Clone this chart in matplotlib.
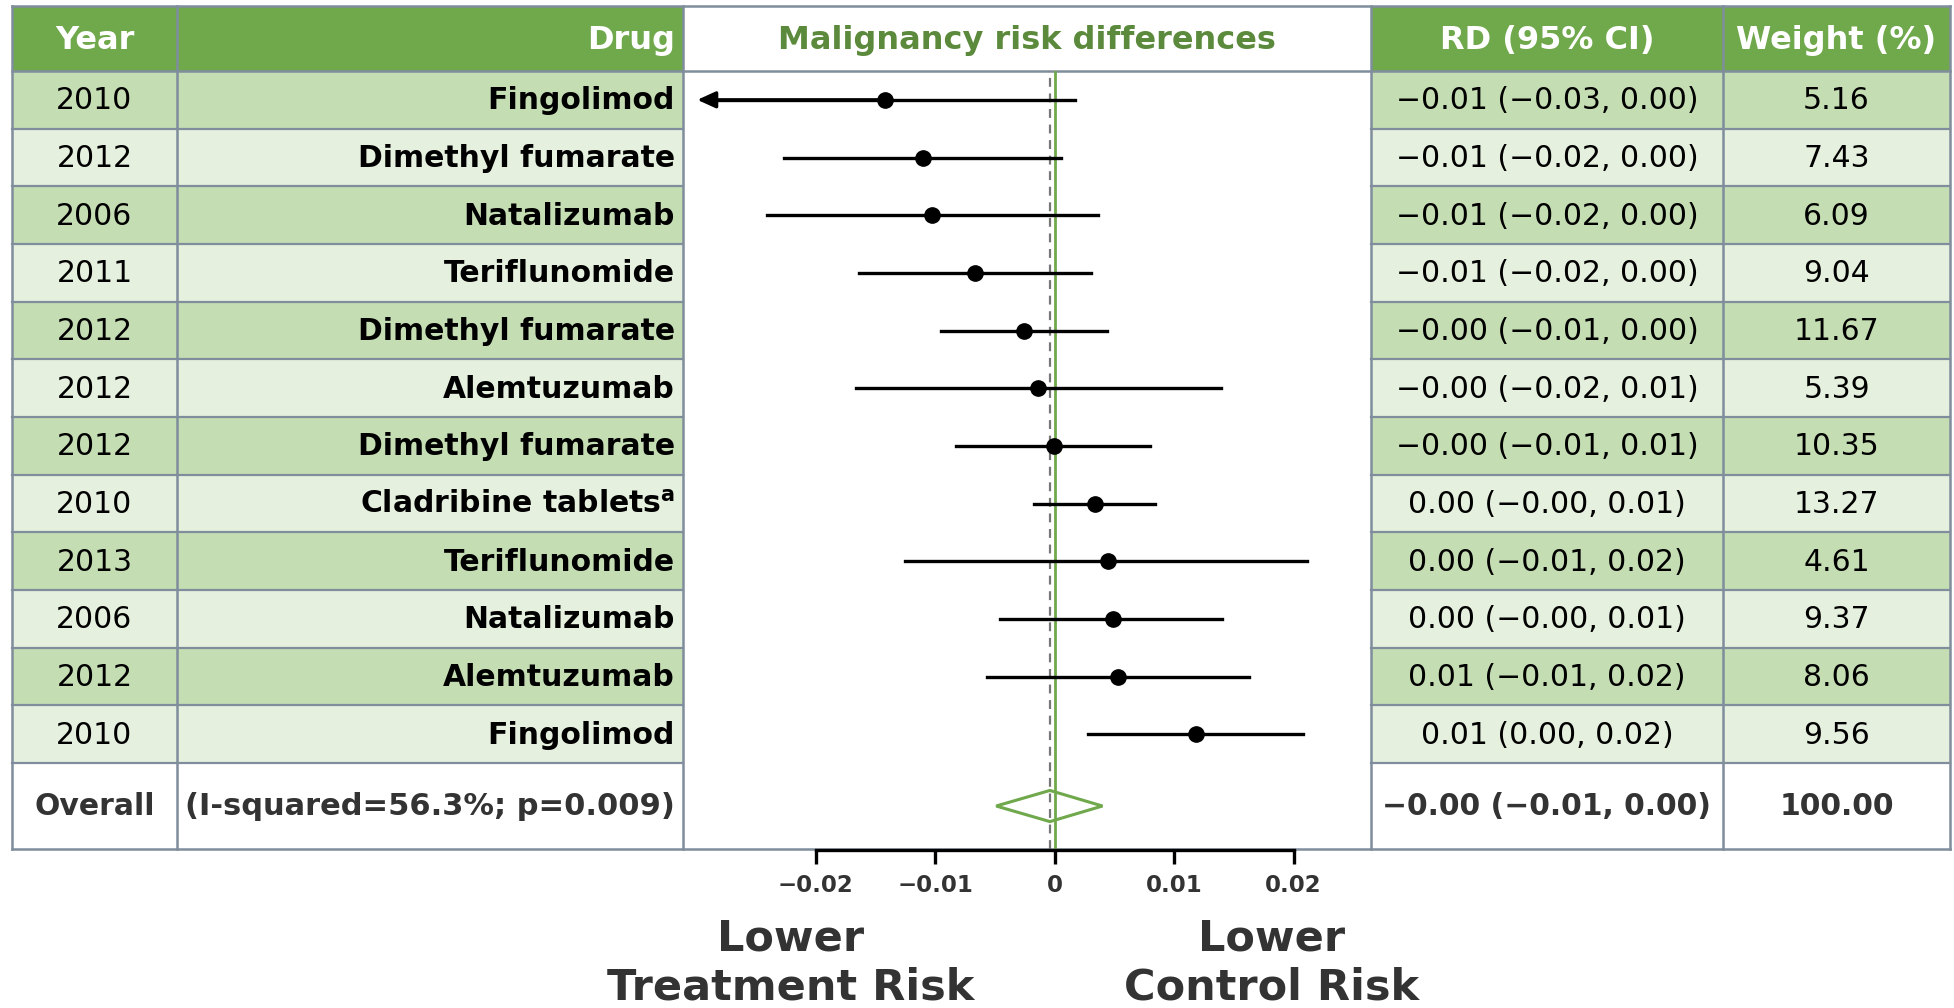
import matplotlib
matplotlib.use("Agg")
import matplotlib.pyplot as plt
import matplotlib.patches as mpatches

# ---- data ----
years = ["2010", "2012", "2006", "2011", "2012", "2012", "2012", "2010", "2013", "2006", "2012", "2010"]
drugs = ["Fingolimod", "Dimethyl fumarate", "Natalizumab", "Teriflunomide", "Dimethyl fumarate",
         "Alemtuzumab", "Dimethyl fumarate", r"Cladribine tablets$^\mathbf{a}$", "Teriflunomide",
         "Natalizumab", "Alemtuzumab", "Fingolimod"]
rd = [-0.0142, -0.0110, -0.0103, -0.0067, -0.0026, -0.0014, -0.0001, 0.0034, 0.0045, 0.0049, 0.0053, 0.0118]
ci_low = [-0.0330, -0.0227, -0.0241, -0.0164, -0.0095, -0.0166, -0.0083, -0.0017, -0.0125, -0.0046, -0.0057, 0.0028]
ci_high = [0.0017, 0.0005, 0.0036, 0.0030, 0.0044, 0.0139, 0.0080, 0.0084, 0.0211, 0.0140, 0.0163, 0.0208]
rd_text = ["−0.01 (−0.03, 0.00)", "−0.01 (−0.02, 0.00)", "−0.01 (−0.02, 0.00)", "−0.01 (−0.02, 0.00)",
           "−0.00 (−0.01, 0.00)", "−0.00 (−0.02, 0.01)", "−0.00 (−0.01, 0.01)", "0.00 (−0.00, 0.01)",
           "0.00 (−0.01, 0.02)", "0.00 (−0.00, 0.01)", "0.01 (−0.01, 0.02)", "0.01 (0.00, 0.02)"]
weights = ["5.16", "7.43", "6.09", "9.04", "11.67", "5.39", "10.35", "13.27", "4.61", "9.37", "8.06", "9.56"]

overall_rd = -0.0004
overall_low = -0.0049
overall_high = 0.0040
overall_text = "−0.00 (−0.01, 0.00)"
overall_weight = "100.00"
overall_label = "(I-squared=56.3%; p=0.009)"

headers = ["Year", "Drug", "Malignancy risk differences", "RD (95% CI)", "Weight (%)"]
ticks = [-0.02, -0.01, 0, 0.01, 0.02]
tick_labels = ["−0.02", "−0.01", "0", "0.01", "0.02"]

# ---- style ----
GREEN = "#70a84c"
TITLE_GREEN = "#5b8a3c"
DARK_ROW = "#c5ddb3"
LIGHT_ROW = "#e6f0de"
BORDER = "#7f8d9c"
GREY_TXT = "#333333"
FS = 21.5
HFS = 23

plt.rcParams['font.family'] = ['DejaVu Sans']

fig = plt.figure(figsize=(19.54, 10.08), dpi=100)
bg = fig.add_axes([0, 0, 1, 1])
bg.set_xlim(0, 1954)
bg.set_ylim(1008, 0)
bg.axis("off")

cols = [12, 177, 683, 1371, 1723, 1950]
top, head_bot = 6, 71
row_h = 57.67
n = len(years)
rows_bot = head_bot + n * row_h
bottom = 849

# header cells
for i in range(5):
    fc = "white" if i == 2 else GREEN
    bg.add_patch(mpatches.Rectangle((cols[i], top), cols[i + 1] - cols[i], head_bot - top, fc=fc, ec="none"))
hy = (top + head_bot) / 2 + 2
bg.text((cols[0] + cols[1]) / 2, hy, headers[0], color="white", fontsize=HFS, fontweight="bold", ha="center", va="center")
bg.text(cols[2] - 8, hy, headers[1], color="white", fontsize=HFS, fontweight="bold", ha="right", va="center")
bg.text((cols[2] + cols[3]) / 2, hy, headers[2], color=TITLE_GREEN, fontsize=HFS, fontweight="bold", ha="center", va="center")
bg.text((cols[3] + cols[4]) / 2, hy, headers[3], color="white", fontsize=HFS, fontweight="bold", ha="center", va="center")
bg.text((cols[4] + cols[5]) / 2, hy, headers[4], color="white", fontsize=HFS, fontweight="bold", ha="center", va="center")

# body rows
for r in range(n):
    y0 = head_bot + r * row_h
    yc = y0 + row_h / 2 + 1
    fc = DARK_ROW if r % 2 == 0 else LIGHT_ROW
    for i in [0, 1, 3, 4]:
        bg.add_patch(mpatches.Rectangle((cols[i], y0), cols[i + 1] - cols[i], row_h, fc=fc, ec="none"))
    bg.text((cols[0] + cols[1]) / 2, yc, years[r], fontsize=FS, ha="center", va="center")
    bg.text(cols[2] - 8, yc, drugs[r], fontsize=FS, fontweight="bold", ha="right", va="center")
    bg.text((cols[3] + cols[4]) / 2, yc, rd_text[r], fontsize=FS, ha="center", va="center")
    bg.text((cols[4] + cols[5]) / 2, yc, weights[r], fontsize=FS, ha="center", va="center")
    if r > 0:
        for i in [0, 1, 3, 4]:
            bg.plot([cols[i], cols[i + 1]], [y0, y0], color=BORDER, lw=1.6)

# overall row
oy = (rows_bot + bottom) / 2
bg.text((cols[0] + cols[1]) / 2, oy, "Overall", color=GREY_TXT, fontsize=FS, fontweight="bold", ha="center", va="center")
bg.text(cols[2] - 8, oy, overall_label, color=GREY_TXT, fontsize=22, fontweight="bold", ha="right", va="center")
bg.text((cols[3] + cols[4]) / 2, oy, overall_text, color=GREY_TXT, fontsize=FS, fontweight="bold", ha="center", va="center")
bg.text((cols[4] + cols[5]) / 2, oy, overall_weight, color=GREY_TXT, fontsize=FS, fontweight="bold", ha="center", va="center")
for i in [0, 1, 3, 4]:
    bg.plot([cols[i], cols[i + 1]], [rows_bot, rows_bot], color=BORDER, lw=1.6)

# borders
for x in cols:
    bg.plot([x, x], [top, bottom], color=BORDER, lw=1.8)
bg.plot([cols[0], cols[-1]], [top, top], color=BORDER, lw=1.8)
bg.plot([cols[0], cols[-1]], [head_bot, head_bot], color=BORDER, lw=1.8)
bg.plot([cols[0], cols[-1]], [bottom, bottom], color=BORDER, lw=1.8)

# ---- forest plot ----
ax = fig.add_axes([cols[2] / 1954, (1008 - bottom) / 1008, (cols[3] - cols[2]) / 1954, (bottom - head_bot) / 1008])
ax.patch.set_alpha(0)
x0 = -0.03113
ax.set_xlim(x0, 0.02649)
y_bottom = n - 0.5 + (bottom - rows_bot) / row_h
ax.set_ylim(y_bottom, -0.5)
yo = (n - 0.5 + y_bottom) / 2

ax.axvline(0, color=GREEN, lw=2.0, zorder=1)
ax.axvline(overall_rd, color="#777777", lw=1.6, ls=(0, (4, 3)), zorder=1)

for r in range(n):
    lo = ci_low[r]
    if lo < x0:
        ax.plot([x0 + 0.0020, ci_high[r]], [r, r], color="black", lw=2.4, zorder=2)
        ax.annotate("", xy=(x0 + 0.0012, r), xytext=(rd[r], r),
                    arrowprops=dict(arrowstyle="-|>,head_length=1.1,head_width=0.5", color="black", lw=2.4,
                                    shrinkA=0, shrinkB=0), zorder=2)
    else:
        ax.plot([lo, ci_high[r]], [r, r], color="black", lw=2.4, zorder=2)
    ax.plot(rd[r], r, "o", color="black", ms=11, zorder=3)

dh = 0.27
ax.add_patch(mpatches.Polygon([(overall_low, yo), (overall_rd, yo - dh), (overall_high, yo), (overall_rd, yo + dh)],
                              closed=True, fill=False, ec=GREEN, lw=2.2, zorder=3))

for s in ["top", "left", "right"]:
    ax.spines[s].set_visible(False)
ax.spines["bottom"].set_bounds(ticks[0], ticks[-1])
ax.spines["bottom"].set_linewidth(2.4)
ax.spines["bottom"].set_position(("outward", 1))
ax.set_yticks([])
ax.set_xticks(ticks)
ax.set_xticklabels(tick_labels, fontsize=16.5, fontweight="bold", color=GREY_TXT)
ax.tick_params(axis="x", length=10, width=2.4, pad=7, color="black")

bg.text(791, 963, "Lower\nTreatment Risk", color=GREY_TXT, fontsize=31, fontweight="bold",
        ha="center", va="center", linespacing=1.2)
bg.text(1272, 963, "Lower\nControl Risk", color=GREY_TXT, fontsize=31, fontweight="bold",
        ha="center", va="center", linespacing=1.2)

fig.savefig("out.png", dpi=100)
